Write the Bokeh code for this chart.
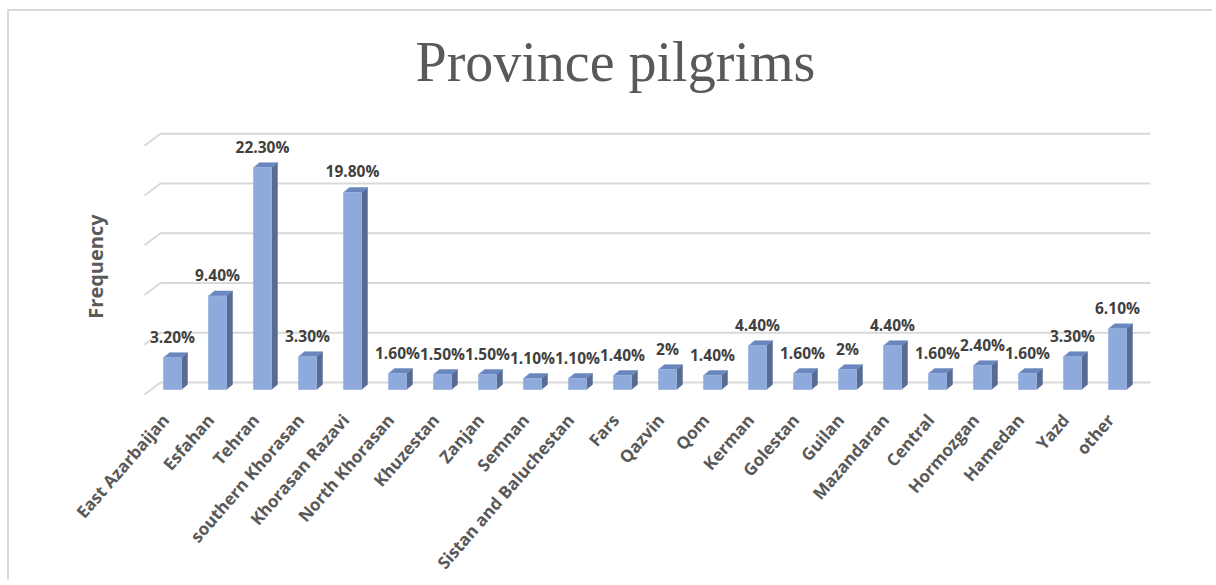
import math
from bokeh.plotting import figure
from bokeh.models import Range1d, ColumnDataSource, LabelSet, Label
from bokeh.core.properties import value
from bokeh.embed import file_html
from bokeh.resources import INLINE

# ---------------- data ----------------
provinces = ["East Azarbaijan", "Esfahan", "Tehran", "southern Khorasan", "Khorasan Razavi",
             "North Khorasan", "Khuzestan", "Zanjan", "Semnan", "Sistan and Baluchestan",
             "Fars", "Qazvin", "Qom", "Kerman", "Golestan", "Guilan", "Mazandaran",
             "Central", "Hormozgan", "Hamedan", "Yazd", "other"]
percent = [3.2, 9.4, 22.3, 3.3, 19.8, 1.6, 1.5, 1.5, 1.1, 1.1, 1.4, 2.0, 1.4, 4.4,
           1.6, 2.0, 4.4, 1.6, 2.4, 1.6, 3.3, 6.1]
value_labels = ["3.20%", "9.40%", "22.30%", "3.30%", "19.80%", "1.60%", "1.50%", "1.50%",
                "1.10%", "1.10%", "1.40%", "2%", "1.40%", "4.40%", "1.60%", "2%", "4.40%",
                "1.60%", "2.40%", "1.60%", "3.30%", "6.10%"]
grid_values = [0, 5, 10, 15, 20, 25]
y_title = "Frequency"
chart_title = "Province pilgrims"

# ---------------- styling constants ----------------
FRONT = "#8EA9DB"
TOP = "#6B87BF"
SIDE = "#586C93"
GRID = "#D9D9D9"
TXT = "#595959"
LBL = "#404040"

half_w = 0.2      # half bar width (category units)
dx = 0.133        # 3D depth, x
dy = 0.5          # 3D depth, y (percent units)
wall_dy = 0.7     # back wall offset of gridlines
stub_dx = 0.356
stub_dy = 1.2

n = len(provinces)
idx = list(range(n))

p = figure(width=1205, height=571, output_backend="svg", toolbar_location=None,
           x_range=Range1d(-3.6222, 23.1556), y_range=Range1d(-19.397, 29.548),
           x_axis_location=None, y_axis_location=None,
           min_border_left=0, min_border_right=0, min_border_top=84,
           min_border_bottom=0)
p.outline_line_color = None
p.xgrid.visible = False
p.ygrid.visible = False
p.background_fill_color = "white"
p.border_fill_color = "white"
p.styles = {"border-top": "2px solid #D9D9D9", "border-left": "2px solid #D9D9D9",
            "margin-left": "7px", "margin-top": "9px"}

# title
p.title.text = chart_title
p.title.align = "left"
p.title.offset = 406
p.title.text_font = "Liberation Serif"
p.title.text_font_size = "56px"
p.title.text_font_style = "normal"
p.title.text_color = TXT
p.title.vertical_align = "bottom"
p.title.standoff = 5

# gridlines (back wall) with perspective stubs
gx0 = -0.2667
gx1 = 21.733
p.multi_line(xs=[[gx0 - stub_dx, gx0, gx1] for g in grid_values],
             ys=[[g + wall_dy - stub_dy, g + wall_dy, g + wall_dy] for g in grid_values],
             line_color=GRID, line_width=2)

# bars: side, top, front
side_xs = [[i + half_w, i + half_w + dx, i + half_w + dx, i + half_w] for i in idx]
side_ys = [[0, dy, v + dy, v] for v in percent]
top_xs = [[i - half_w, i + half_w, i + half_w + dx, i - half_w + dx] for i in idx]
top_ys = [[v, v, v + dy, v + dy] for v in percent]
p.patches(side_xs, side_ys, fill_color=SIDE, line_color=SIDE, line_width=0.5)
p.patches(top_xs, top_ys, fill_color=TOP, line_color=TOP, line_width=0.5)
src = ColumnDataSource(dict(x=idx, top=percent, lab=value_labels, zero=[0] * n,
                            name=provinces))
p.vbar(x="x", top="top", bottom=0, width=2 * half_w, source=src,
       fill_color=FRONT, line_color="#9DB5E0", line_width=0.8)

# value labels
p.add_layout(LabelSet(x="x", y="top", text="lab", source=src, y_offset=15,
                      text_align="center", text_baseline="alphabetic",
                      text_font=value("Open Sans"), text_font_style="bold",
                      text_font_size="15.5px", text_color=LBL))

# category labels (slanted, below the floor)
p.add_layout(LabelSet(x="x", y="zero", text="name", source=src,
                      x_offset=-7, y_offset=-27, angle=math.radians(49),
                      text_align="right", text_baseline="middle",
                      text_font=value("Open Sans"), text_font_style="bold",
                      text_font_size="17px", text_color=TXT))

# value-axis title
p.add_layout(Label(x=-1.711, y=12.36, text=y_title, angle=math.pi / 2,
                   text_align="center", text_baseline="middle",
                   text_font="Open Sans", text_font_style="bold",
                   text_font_size="20px", text_color=TXT))

open("out.html", "w").write(file_html(p, INLINE))
